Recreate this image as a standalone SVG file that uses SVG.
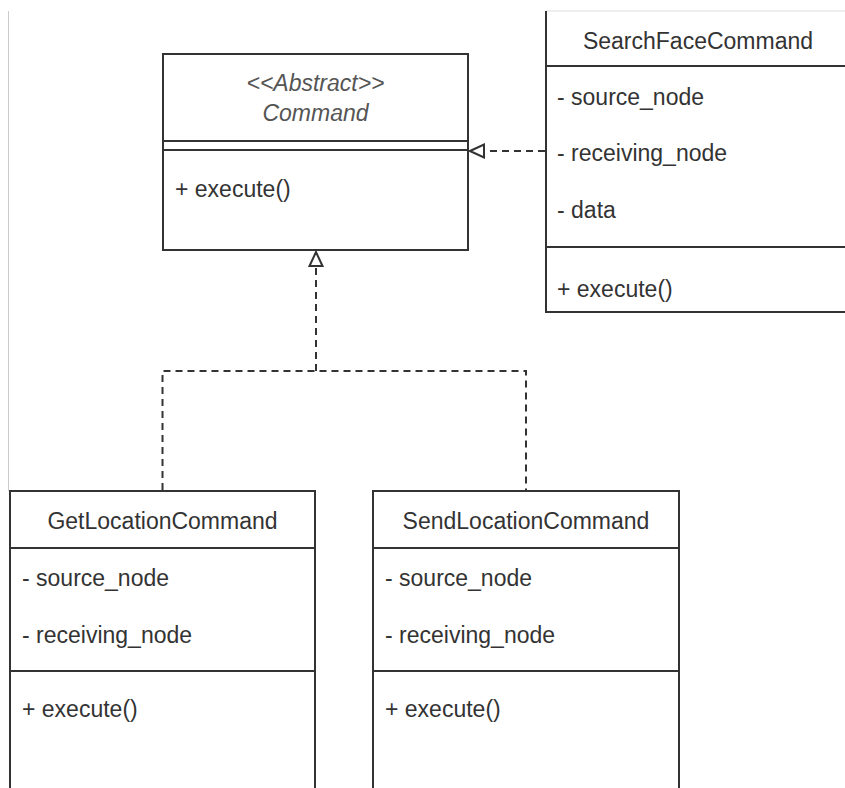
<svg xmlns="http://www.w3.org/2000/svg" width="845" height="788" viewBox="0 0 845 788">
<style>
.box{fill:#fff;stroke:#333;stroke-width:2}
.ln{stroke:#333;stroke-width:2;fill:none}
.t{font-family:"Liberation Sans",Arial,sans-serif;font-size:23px;fill:#333}
.c{text-anchor:middle}
.i{font-style:italic;fill:#555}
.dash{stroke:#333;stroke-width:2;fill:none;stroke-dasharray:7 5}
</style>
<defs>
<marker id="tri" viewBox="0 0 16 16" refX="15" refY="8" markerWidth="16" markerHeight="16" markerUnits="userSpaceOnUse" orient="auto">
<path d="M15,8 L1,1.5 L1,14.5 Z" fill="#fff" stroke="#333" stroke-width="2"/>
</marker>
</defs>
<rect width="845" height="788" fill="#fff"/>
<line x1="8.5" y1="11" x2="8.5" y2="491" stroke="#ccc" stroke-width="1"/>

<g id="command">
<rect class="box" x="163" y="54" width="305" height="196"/>
<line class="ln" x1="163" y1="141" x2="468" y2="141"/>
<line class="ln" x1="163" y1="150" x2="468" y2="150"/>
<text class="t c i" x="315.5" y="91">&lt;&lt;Abstract&gt;&gt;</text>
<text class="t c i" x="315.5" y="121">Command</text>
<text class="t" x="175" y="197">+ execute()</text>
</g>

<g id="searchface">
<rect x="546" y="11" width="310" height="301" fill="#fff"/>
<line x1="546" y1="11" x2="845" y2="11" stroke="#ddd" stroke-width="1"/>
<path class="ln" d="M546,11 L546,312 L850,312"/>
<line class="ln" x1="546" y1="66" x2="850" y2="66"/>
<line class="ln" x1="546" y1="247" x2="850" y2="247"/>
<text class="t c" x="698" y="49">SearchFaceCommand</text>
<text class="t" x="557" y="105">- source_node</text>
<text class="t" x="557" y="161">- receiving_node</text>
<text class="t" x="557" y="218">- data</text>
<text class="t" x="557" y="297">+ execute()</text>
</g>

<g id="getlocation">
<rect class="box" x="10" y="491" width="305" height="310"/>
<line class="ln" x1="10" y1="548" x2="315" y2="548"/>
<line class="ln" x1="10" y1="671" x2="315" y2="671"/>
<text class="t c" x="162.5" y="529">GetLocationCommand</text>
<text class="t" x="22" y="586">- source_node</text>
<text class="t" x="22" y="643">- receiving_node</text>
<text class="t" x="22" y="717">+ execute()</text>
</g>

<g id="sendlocation">
<rect class="box" x="373" y="491" width="306" height="310"/>
<line class="ln" x1="373" y1="548" x2="679" y2="548"/>
<line class="ln" x1="373" y1="671" x2="679" y2="671"/>
<text class="t c" x="526" y="529">SendLocationCommand</text>
<text class="t" x="385" y="586">- source_node</text>
<text class="t" x="385" y="643">- receiving_node</text>
<text class="t" x="385" y="717">+ execute()</text>
</g>

<g id="connectors">
<path class="dash" d="M545,151 L470,151" marker-end="url(#tri)"/>
<path class="dash" d="M162.5,490 L162.5,371 L526,371 L526,490"/>
<path class="dash" d="M316,371 L316,252" marker-end="url(#tri)"/>
</g>
</svg>
